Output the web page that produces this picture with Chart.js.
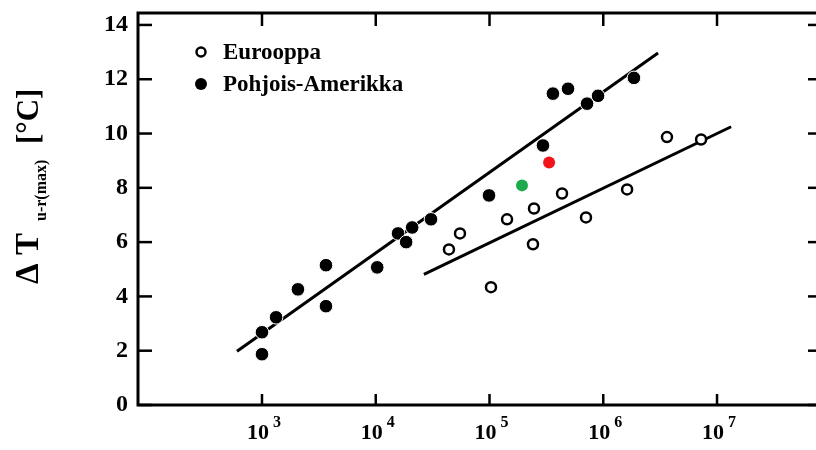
<!doctype html>
<html lang="fi">
<head>
<meta charset="utf-8">
<style>
  html, body { margin: 0; padding: 0; background: #fff; overflow: hidden; }
</style>
</head>
<body>
<canvas id="chart" width="816" height="450"></canvas>

<script src="https://cdn.jsdelivr.net/npm/chart.js"></script>
<script>
// data
const euX = [44000, 55000, 103000, 142600, 246000, 241000, 434000, 705000, 1620000, 3630000, 7240000];
const euY = [5.73, 6.32, 4.34, 6.84, 7.24, 5.92, 7.79, 6.91, 7.94, 9.87, 9.78];
const naX = [1000, 1000, 1330, 2070, 3650, 3650, 10300, 15700, 18500, 20900, 30600, 99000, 295000, 361000, 490000, 720000, 900000, 1860000];
const naY = [1.87, 2.68, 3.23, 4.26, 5.15, 3.64, 5.07, 6.32, 6.0, 6.54, 6.84, 7.72, 9.56, 11.47, 11.65, 11.1, 11.39, 12.05];
const redX = [334000], redY = [8.93];
const greenX = [193000], greenY = [8.09];
const naFitX = [603, 3030000], naFitY = [1.98, 12.97];
const euFitX = [26500, 13300000], euFitY = [4.81, 10.25];
const xTicks = [1e3, 1e4, 1e5, 1e6, 1e7];
const yTicks = [0, 2, 4, 6, 8, 10, 12, 14];
const seriesNames = ['Eurooppa', 'Pohjois-Amerikka'];

const FONT = '"Liberation Serif", "Times New Roman", serif';
const pts = (xs, ys) => xs.map((v, i) => ({x: v, y: ys[i]}));

function seg(ctx, x1, y1, x2, y2) {
    ctx.beginPath(); ctx.moveTo(x1, y1); ctx.lineTo(x2, y2); ctx.stroke();
}

// frame (right side runs off the picture), inner ticks, x labels, y title, legend
const decor = {
    id: 'decor',
    afterDraw(chart) {
        const ctx = chart.ctx, a = chart.chartArea;
        const x = chart.scales.x, y = chart.scales.y;
        ctx.save();
        ctx.strokeStyle = '#000';
        ctx.fillStyle = '#000';
        ctx.lineWidth = 3;
        ctx.beginPath();
        ctx.moveTo(a.right + 2, a.top);
        ctx.lineTo(a.left, a.top);
        ctx.lineTo(a.left, a.bottom);
        ctx.lineTo(a.right + 2, a.bottom);
        ctx.stroke();

        ctx.lineWidth = 2.5;
        y.ticks.forEach(t => {
            const py = y.getPixelForValue(t.value);
            seg(ctx, a.left, py, a.left + 14, py);
            seg(ctx, a.right, py, a.right - 8, py);
        });
        x.ticks.forEach(t => {
            const px = x.getPixelForValue(t.value);
            seg(ctx, px, a.bottom, px, a.bottom - 11);
            seg(ctx, px, a.top, px, a.top + 13);
        });

        // x tick labels: 10 with superscript exponent
        ctx.textBaseline = 'alphabetic';
        ctx.textAlign = 'left';
        x.ticks.forEach(t => {
            const px = x.getPixelForValue(t.value);
            const e = String(Math.round(Math.log10(t.value)));
            ctx.font = 'bold 22px ' + FONT;
            const wb = ctx.measureText('10').width;
            ctx.font = 'bold 16px ' + FONT;
            const we = ctx.measureText(e).width;
            const x0 = px - (wb + 4 + we) / 2 + 2;
            ctx.font = 'bold 22px ' + FONT;
            ctx.fillText('10', x0, 439);
            ctx.font = 'bold 16px ' + FONT;
            ctx.fillText(e, x0 + wb + 4, 427);
        });

        // y axis title, rotated
        ctx.save();
        ctx.translate(38, 284);
        ctx.rotate(-Math.PI / 2);
        ctx.font = 'bold 33px ' + FONT;
        ctx.fillText('\u0394 T', 0, 0);
        ctx.font = 'bold 16px ' + FONT;
        ctx.fillText('u-r(max)', 63, 8);
        ctx.font = 'bold 31px ' + FONT;
        ctx.fillText('[\u00b0C]', 140, 0);
        ctx.restore();

        // legend
        const ds = chart.data.datasets;
        [0, 1].forEach((k, i) => {
            const cy = 52 + i * 32;
            ctx.beginPath();
            ctx.arc(201, cy, k === 0 ? 4.5 : 6, 0, Math.PI * 2);
            if (k === 0) {
                ctx.fillStyle = '#fff'; ctx.fill();
                ctx.lineWidth = 2.5; ctx.strokeStyle = '#000'; ctx.stroke();
            } else {
                ctx.fillStyle = '#000'; ctx.fill();
            }
            ctx.fillStyle = '#000';
            ctx.font = 'bold 23px ' + FONT;
            ctx.textBaseline = 'middle';
            ctx.fillText(ds[k].label, 223, cy + 1);
        });
        ctx.restore();
    }
};

new Chart(document.getElementById('chart'), {
    type: 'scatter',
    data: {
        datasets: [{
            label: seriesNames[0],
            data: pts(euX, euY),
            pointRadius: 5,
            pointBackgroundColor: '#fff',
            pointBorderColor: '#000',
            pointBorderWidth: 2.5
        }, {
            label: seriesNames[1],
            data: pts(naX, naY),
            pointRadius: 6.8,
            pointBackgroundColor: '#000',
            pointBorderColor: '#fff',
            pointBorderWidth: 1
        }, {
            label: 'red',
            data: pts(redX, redY),
            pointRadius: 6,
            pointBackgroundColor: '#f01418',
            pointBorderColor: '#f01418',
            pointBorderWidth: 0
        }, {
            label: 'green',
            data: pts(greenX, greenY),
            pointRadius: 6,
            pointBackgroundColor: '#1daa4c',
            pointBorderColor: '#1daa4c',
            pointBorderWidth: 0
        }, {
            label: 'fitNA',
            data: pts(naFitX, naFitY),
            showLine: true,
            borderColor: '#000',
            borderWidth: 3,
            pointRadius: 0
        }, {
            label: 'fitEU',
            data: pts(euFitX, euFitY),
            showLine: true,
            borderColor: '#000',
            borderWidth: 3,
            pointRadius: 0
        }]
    },
    options: {
        responsive: false,
        animation: false,
        layout: { autoPadding: false, padding: { top: 13, right: 0, left: 0, bottom: 0 } },
        plugins: { legend: { display: false }, tooltip: { enabled: false } },
        scales: {
            x: {
                type: 'logarithmic',
                min: Math.pow(10, 1.91),
                max: Math.pow(10, 7.87),
                grid: { display: false },
                border: { display: false },
                ticks: { display: false },
                afterBuildTicks: s => { s.ticks = xTicks.map(v => ({value: v})); },
                afterFit: s => { s.height = 45; s.paddingLeft = 0; s.paddingRight = 0; }
            },
            y: {
                min: 0,
                max: 14.44,
                grid: { display: false, drawTicks: false },
                border: { display: false },
                ticks: {
                    stepSize: 2,
                    includeBounds: false,
                    padding: 10,
                    color: '#000',
                    font: { family: FONT, size: 24, weight: 'bold' }
                },
                afterBuildTicks: s => { s.ticks = yTicks.map(v => ({value: v})); },
                afterFit: s => { s.width = 138; s.paddingTop = 0; s.paddingBottom = 0; }
            }
        }
    },
    plugins: [decor]
});
</script>
</body>
</html>
